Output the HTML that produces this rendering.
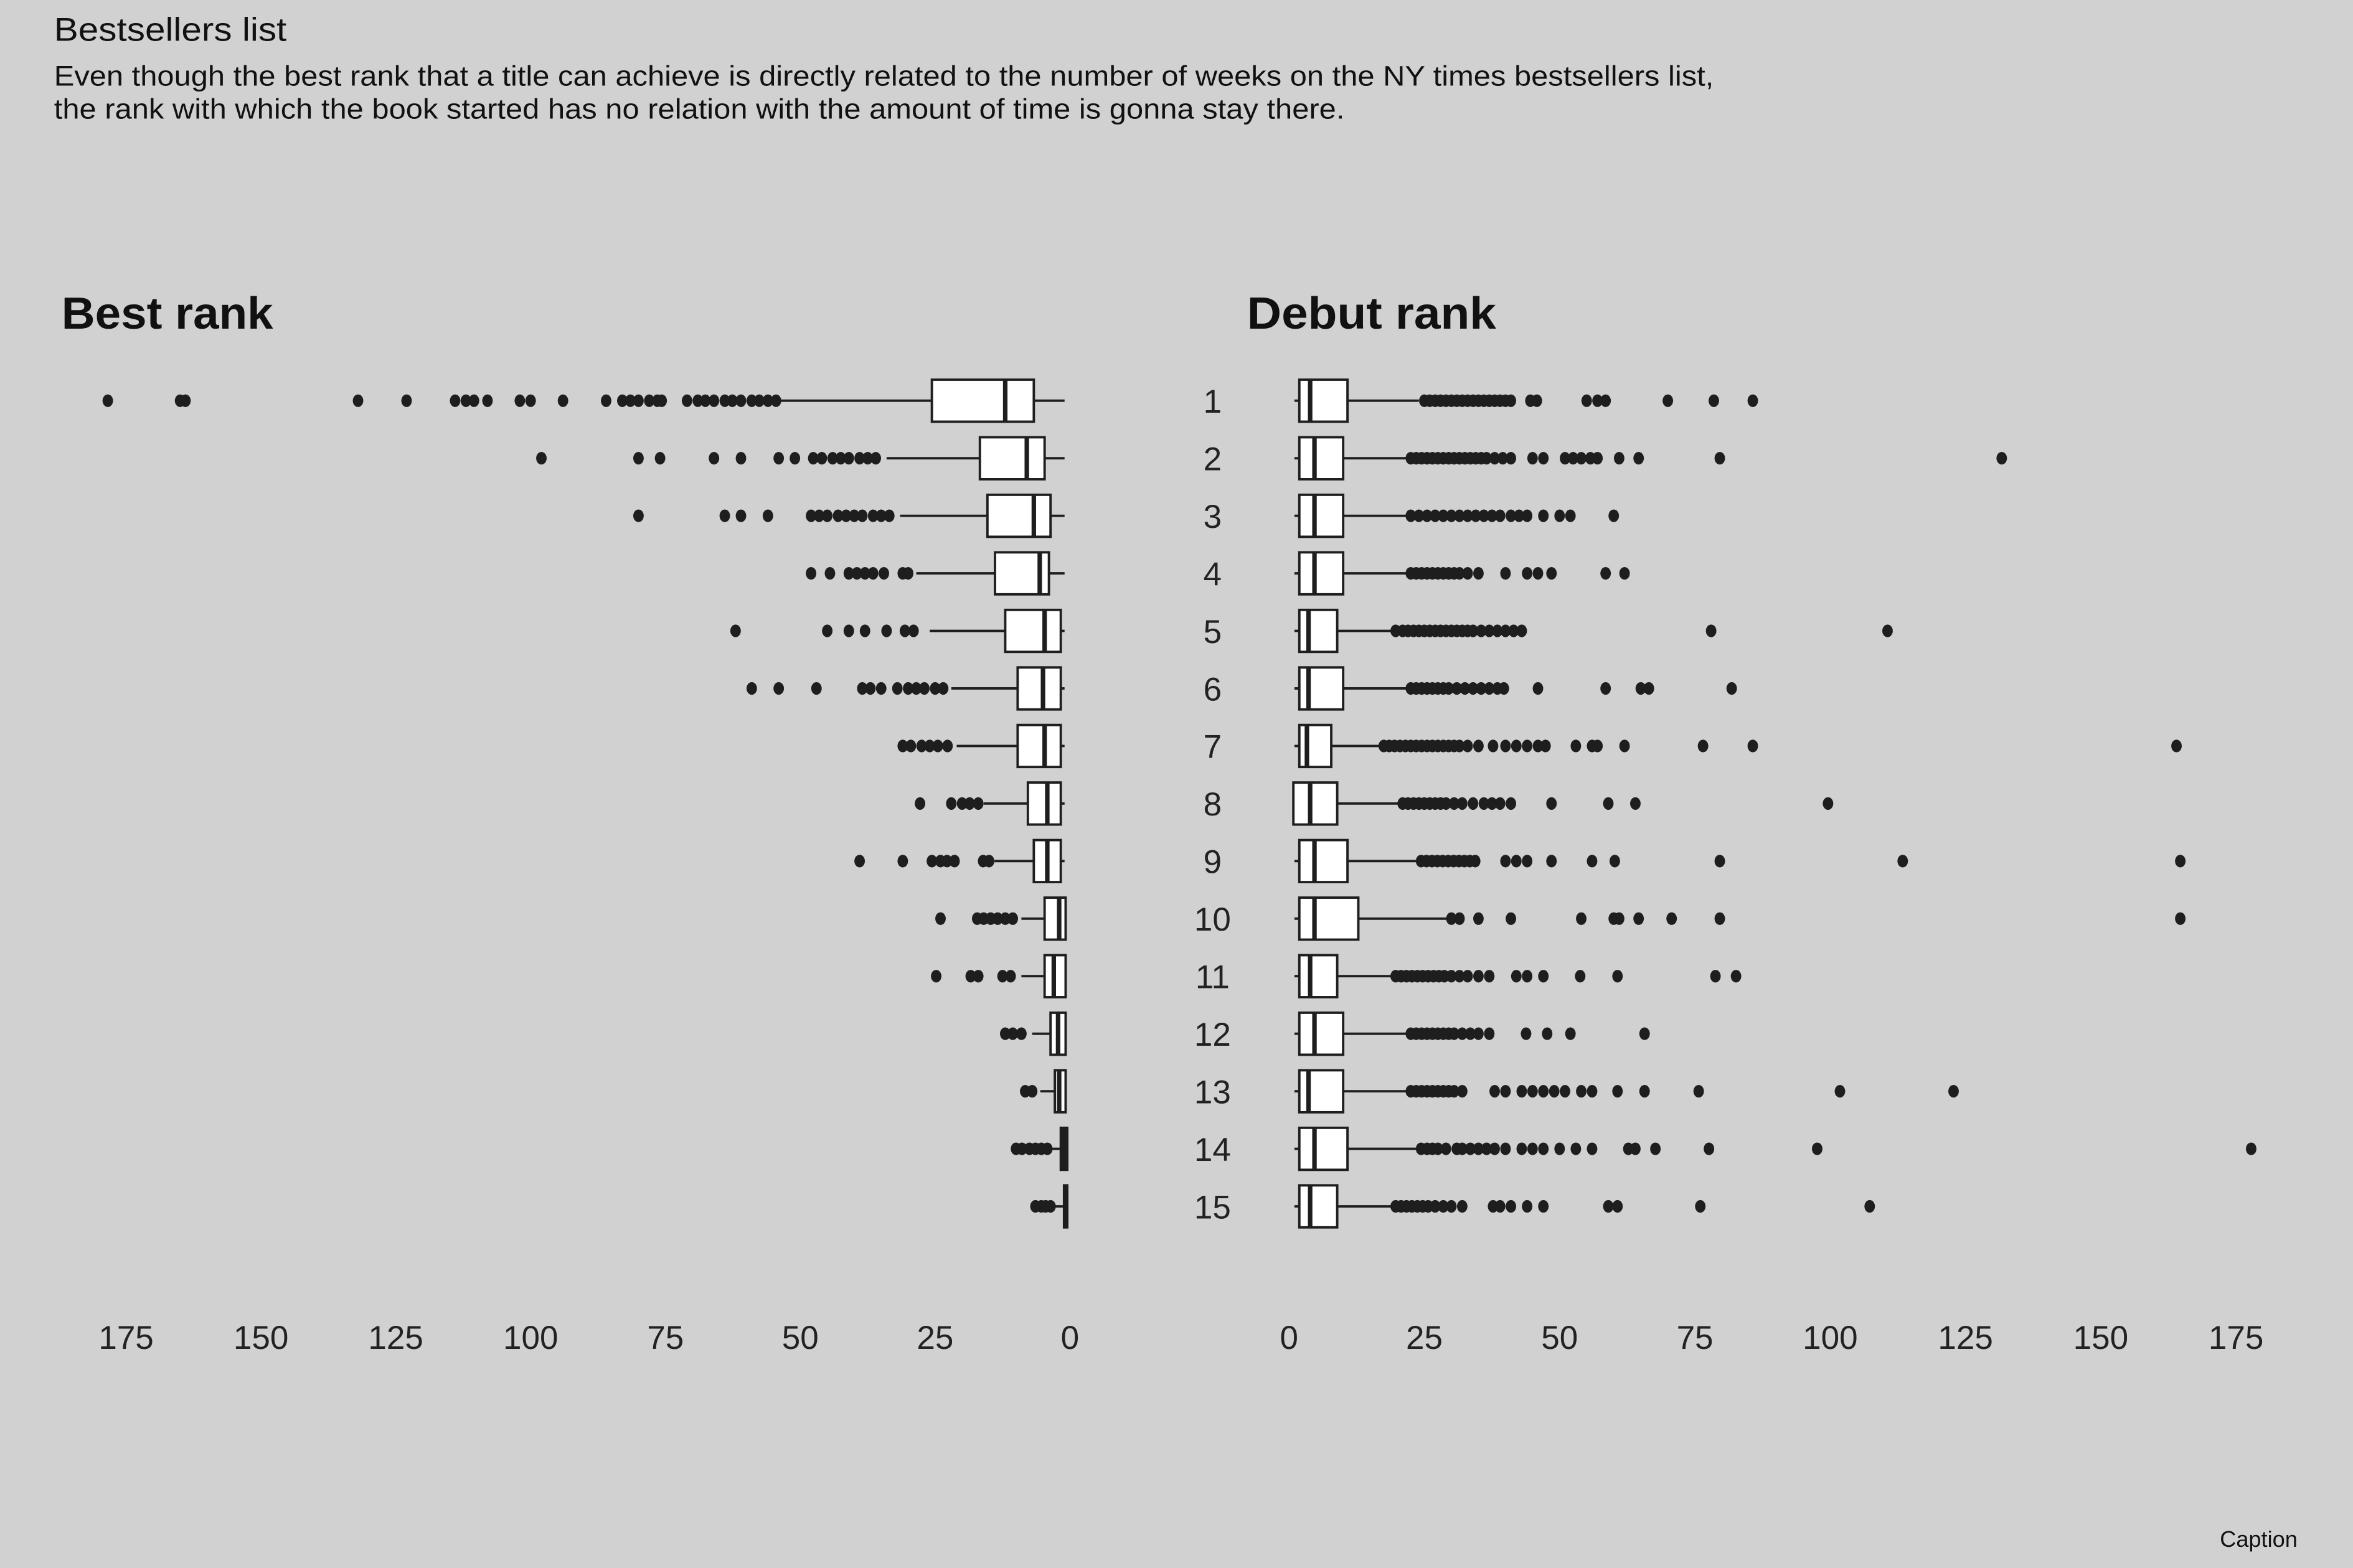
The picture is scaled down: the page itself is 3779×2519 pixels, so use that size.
<!DOCTYPE html>
<html><head><meta charset="utf-8"><style>
html,body{margin:0;padding:0;background:#d1d1d1;}
svg{display:block;}
text{font-family:"Liberation Sans",sans-serif;}
</style></head><body>
<svg id="chart" width="3779" height="2519" viewBox="0 0 1568 1045" xmlns="http://www.w3.org/2000/svg">
<rect x="0" y="0" width="1568" height="1045" fill="#d1d1d1"/>
<text x="36" y="27" font-size="22" textLength="155" lengthAdjust="spacingAndGlyphs" fill="#111">Bestsellers list</text>
<text x="36" y="57" font-size="19" textLength="1106" lengthAdjust="spacingAndGlyphs" fill="#111">Even though the best rank that a title can achieve is directly related to the number of weeks on the NY times bestsellers list,</text>
<text x="36" y="79" font-size="19" textLength="860" lengthAdjust="spacingAndGlyphs" fill="#111">the rank with which the book started has no relation with the amount of time is gonna stay there.</text>
<text x="41" y="219" font-size="30" font-weight="bold" textLength="141" lengthAdjust="spacingAndGlyphs" fill="#111">Best rank</text>
<text x="831" y="219" font-size="30" font-weight="bold" textLength="166" lengthAdjust="spacingAndGlyphs" fill="#111">Debut rank</text>
<text x="1531" y="1031" font-size="15" text-anchor="end" fill="#111">Caption</text>
<g id="marks"></g>
</svg>
<script>
const ranks = [1,2,3,4,5,6,7,8,9,10,11,12,13,14,15];
const tickValues = [0,25,50,75,100,125,150,175];
// Best rank: [whiskerLow, q1, median, q3, whiskerHigh]
const bestStats = [
 [1,6.7,12,25.6,54],[1,4.7,8,16.7,34],[1,3.6,6.7,15.3,31.5],[1,3.9,5.6,13.9,28.5],[1,1.7,4.7,12,26],
 [1,1.7,5,9.7,22],[1,1.7,4.7,9.7,21],[1,1.7,4.2,7.8,16],[1,1.7,4.2,6.7,14],[0.8,0.8,2,4.7,9],
 [0.8,0.8,3,4.7,9],[0.8,0.8,2.2,3.6,7],[0.8,0.8,2,2.8,5.5],[0.5,0.5,1.1,1.7,3.6],[0.5,0.5,0.8,1.1,3.5]
];
const bestOutliers = [
 [178.4,165,164,132,123,114,112,110.5,108,102,100,94,86,83,81.5,80,78,76.5,75.7,71,69,67.6,66,64,62.6,61,59,57.6,56,54.5],
 [98,80,76,66,61,54,51,47.6,46,44,42.5,41,39,37.5,36],
 [80,64,61,56,48,46.5,45,43,41.5,40,38.5,36.5,35,33.5],
 [48,44.5,41,39.5,38,36.5,34.5,31,30],
 [62,45,41,38,34,30.6,29],
 [59,54,47,38.5,37,35,32,30,28.5,27,25,23.5],
 [31,29.5,27.5,26,24.5,22.7],
 [27.8,22,20,18.6,17],
 [39,31,25.6,24,22.8,21.4,16.1,15],
 [24,17.2,16,14.7,13.4,12,10.6],
 [24.8,18.4,17,12.5,11],
 [12,10.6,9],
 [8.3,7],
 [10,8.9,7.5,6.4,5.3,4.2],
 [6.4,5.3,4.5,3.6]
];
const debutStats = [
 [1,1.9,3.9,10.8,24],[1,1.9,4.7,10,22],[1,1.9,4.7,10,22],[1,1.9,4.7,10,22],[1,1.9,3.6,8.9,19],
 [1,1.9,3.6,10,22],[1,1.9,3.3,7.8,17],[1,0.8,3.9,8.9,21],[1,1.9,4.7,10.8,24],[1,1.9,4.7,12.8,29.7],
 [1,1.9,3.9,8.9,19],[1,1.9,4.7,10,22],[1,1.9,3.6,10,22],[1,1.9,4.7,10.8,24],[1,1.9,3.9,8.9,19]
];
const debutOutliers = [
 [25,26,27,28,29,30,31,32,33,34,35,36,37,38,39,40,41,44.6,45.8,55,57,58.5,70,78.5,85.7],
 [22.5,23.5,24.5,25.5,26.5,27.5,28.5,29.5,30.5,31.5,32.5,33.5,34.5,35.5,36.5,38,39.5,41,45,47,51,52.5,54,55.7,57,61,64.6,79.6,131.7],
 [22.5,24,25.5,27,28.5,30,31.5,33,34.5,36,37.5,39,41,42.5,44,47,50,52,60],
 [22.5,23.5,24.5,25.5,26.5,27.5,28.5,29.5,30.5,31.5,33,35,40,44,46,48.5,58.5,62],
 [19.7,21,22,23,24,25,26,27,28,29,30,31,32,33,34,35.5,37,38.5,40,41.5,43,78,110.6],
 [22.5,23.5,24.5,25.5,26.5,27.5,28.5,29.5,31,32.5,34,35.5,37,38.5,39.7,46,58.5,65,66.5,81.8],
 [17.5,18.5,19.5,20.5,21.5,22.5,23.5,24.5,25.5,26.5,27.5,28.5,29.5,30.5,31.5,33,35,37.7,40,42,44,46,47.4,53,56,57,62,76.5,85.7,164],
 [21,22,23,24,25,26,27,28,29,30.5,32,34,36,37.5,39,41,48.5,59,64,99.6],
 [24.4,25.4,26.4,27.4,28.4,29.4,30.4,31.4,32.4,33.4,34.4,40,42,44,48.5,56,60.2,79.6,113.4,164.7],
 [30,31.5,35,41,54,60,61,64.6,70.7,79.6,164.7],
 [19.7,20.7,21.7,22.7,23.7,24.7,25.7,26.7,27.7,28.7,30,31.5,33,35,37,42,44,47,53.8,60.7,78.8,82.6],
 [22.5,23.5,24.5,25.5,26.5,27.5,28.5,29.5,30.5,32,33.5,35,37,43.8,47.7,52,65.7],
 [22.5,23.5,24.5,25.5,26.5,27.5,28.5,29.5,30.5,32,38,40,43,45,47,49,51,54,56,60.7,65.7,75.7,101.8,122.8],
 [24.4,25.5,26.5,27.5,29,31,32,33.5,35,36.5,38,40,43,45,47,50,53,56,62.7,64,67.7,77.6,97.6,177.8],
 [19.7,20.7,21.7,22.7,23.7,24.7,25.7,27,28.5,30,32,37.7,39,41,44,47,59,60.7,76,107.3]
];

const NS = "http://www.w3.org/2000/svg";
const g = document.getElementById('marks');
const xLeft = v => 713 - v * 3.594;
const xRight = v => 859 + v * 3.606;
const yRow = r => 267 + (r - 1) * 38.36;
const BOXH = 28;

function mk(tag, attrs) {
  const e = document.createElementNS(NS, tag);
  for (const k in attrs) e.setAttribute(k, attrs[k]);
  g.appendChild(e);
  return e;
}

function drawPanel(stats, outliers, xf, side) {
  ranks.forEach((r, i) => {
    const y = yRow(r);
    const s = stats[i];
    const w1 = mk('line', {x1: xf(s[0]), x2: xf(s[1]), y1: y, y2: y, stroke: '#1e1e1e', 'stroke-width': 1.6});
    
    
    const w2 = mk('line', {x1: xf(s[3]), x2: xf(s[4]), y1: y, y2: y, stroke: '#1e1e1e', 'stroke-width': 1.6});
    
    
    const xa = Math.min(xf(s[1]), xf(s[3])), xb = Math.max(xf(s[1]), xf(s[3]));
    const box = mk('rect', {x: xa, y: y - BOXH / 2, width: Math.max(xb - xa, 1.5), height: BOXH, fill: '#fff', stroke: '#1e1e1e', 'stroke-width': 1.6});
    
    
    const med = mk('line', {x1: xf(s[2]), x2: xf(s[2]), y1: y - BOXH / 2, y2: y + BOXH / 2, stroke: '#1e1e1e', 'stroke-width': 3});
    
    
    outliers[i].forEach(v => {
      const c = mk('ellipse', {cx: xf(v), cy: y, rx: 3.5, ry: 4.2, fill: '#1e1e1e'});
      
      
    });
  });
  tickValues.forEach(t => {
    const tx = mk('text', {x: xf(t), y: 899, 'font-size': 22, 'text-anchor': 'middle', fill: '#222'});
    
    
    tx.textContent = t;
  });
}
drawPanel(bestStats, bestOutliers, xLeft, 'best-rank');
drawPanel(debutStats, debutOutliers, xRight, 'debut-rank');
ranks.forEach(r => {
  const t = mk('text', {x: 808, y: yRow(r) + 8, 'font-size': 22, 'text-anchor': 'middle', fill: '#222'});
  
  
  t.textContent = r;
});
</script>
</body></html>
